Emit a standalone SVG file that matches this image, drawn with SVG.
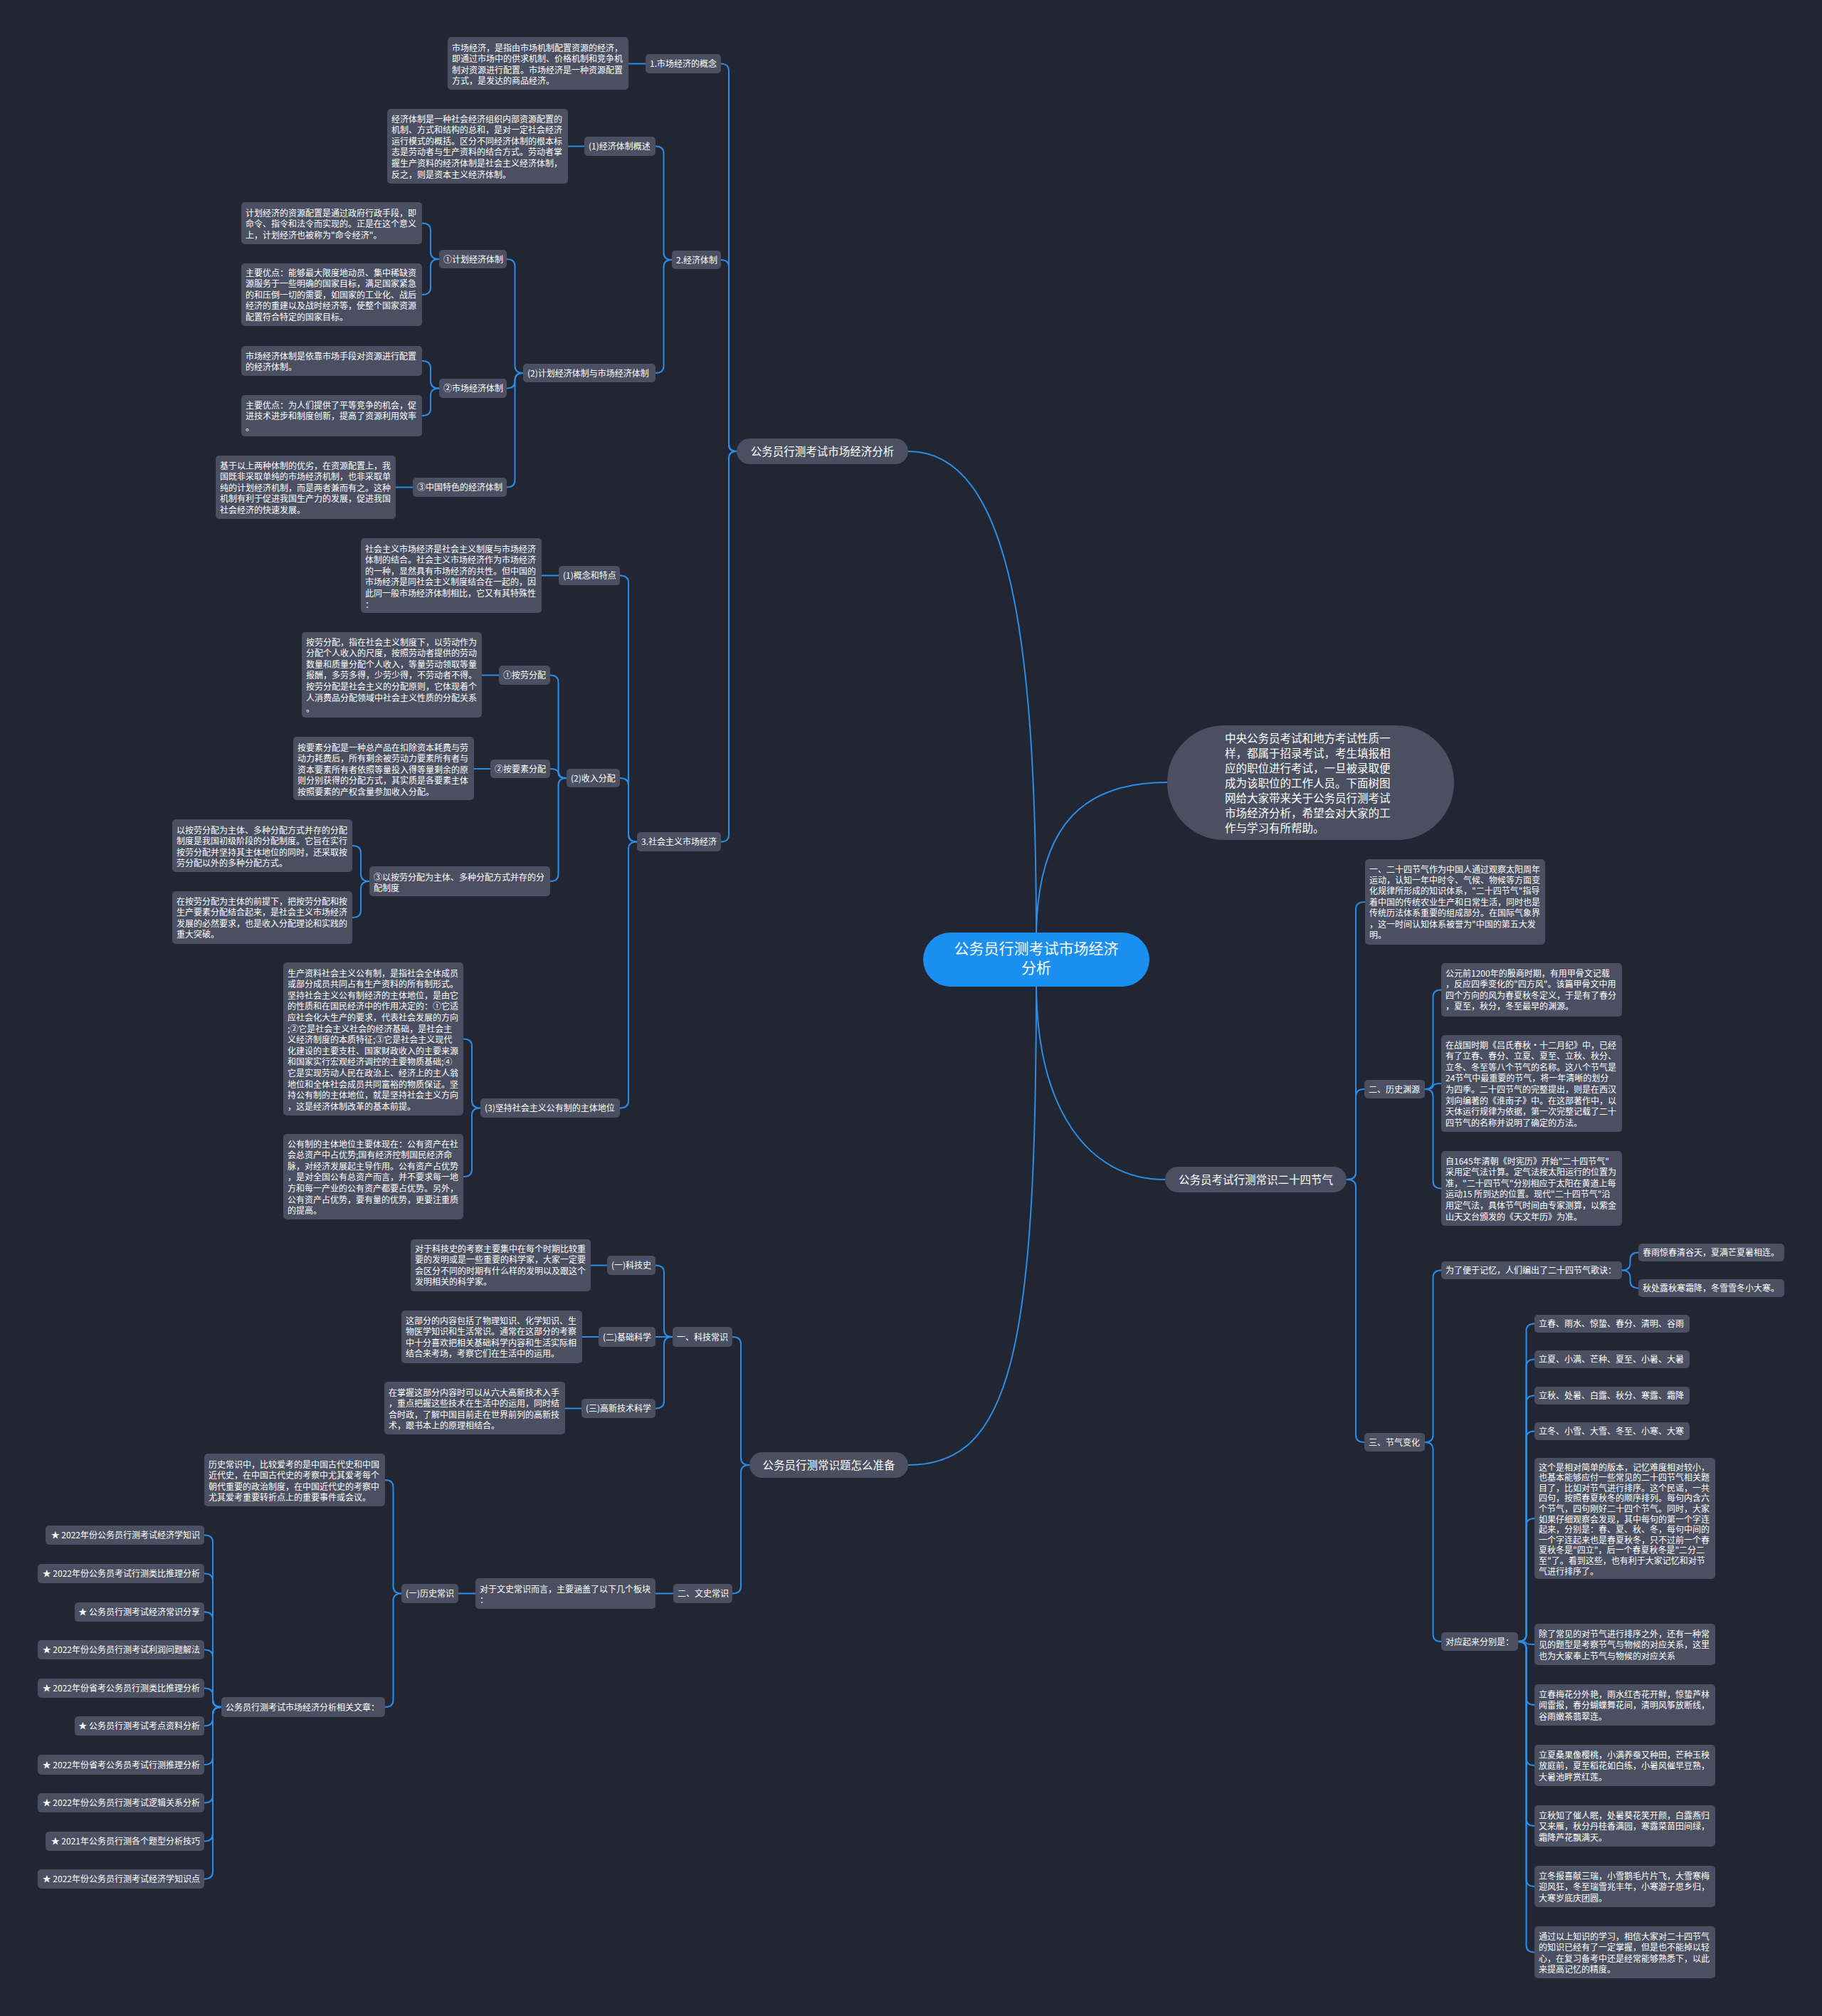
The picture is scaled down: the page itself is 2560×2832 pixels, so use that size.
<svg xmlns="http://www.w3.org/2000/svg" width="2560" height="2832" viewBox="0 0 2560 2832">
<style>
.n{fill:#4a5061}
.t{font-family:"Noto Sans CJK SC","Noto Sans",sans-serif;font-size:12px;fill:#ffffff}
.m{font-size:15.5px}
.c{font-size:21px}
.l{fill:none;stroke:#2b8de6;stroke-width:2}
</style>
<rect x="0" y="0" width="2560" height="2832" fill="#222632"/>
<g id="connectors">
<path class="l" d="M1456,1320 C1456,900 1420,634 1276,634"/>
<path class="l" d="M1456,1320 C1456,1150 1530,1099 1640,1099"/>
<path class="l" d="M1456,1380 C1456,1560 1530,1657 1637,1657"/>
<path class="l" d="M1456,1380 C1456,1900 1420,2058 1276,2058"/>
<path class="l" d="M1035,634 Q1024,634 1024,624 L1024,99.5 Q1024,89.5 1013,89.5"/>
<path class="l" d="M1035,634 Q1024,634 1024,624 L1024,375 Q1024,365 1013,365"/>
<path class="l" d="M1035,634 Q1024,634 1024,644 L1024,1172.5 Q1024,1182.5 1013,1182.5"/>
<path class="l" d="M907,89.5 L883,89.5"/>
<path class="l" d="M944,365 Q932.5,365 932.5,355 L932.5,215.5 Q932.5,205.5 921,205.5"/>
<path class="l" d="M944,365 Q932.5,365 932.5,375 L932.5,514 Q932.5,524 921,524"/>
<path class="l" d="M821,205.5 L798,205.5"/>
<path class="l" d="M735,524 Q723.5,524 723.5,514 L723.5,374 Q723.5,364 712,364"/>
<path class="l" d="M735,524 Q723.5,524 723.5,534 L723.5,535.5 Q723.5,545.5 712,545.5"/>
<path class="l" d="M735,524 Q723.5,524 723.5,534 L723.5,674.5 Q723.5,684.5 712,684.5"/>
<path class="l" d="M617,364 Q605,364 605,354 L605,323.5 Q605,313.5 593,313.5"/>
<path class="l" d="M617,364 Q605,364 605,374 L605,404 Q605,414 593,414"/>
<path class="l" d="M617,545.5 Q605,545.5 605,535.5 L605,517 Q605,507 593,507"/>
<path class="l" d="M617,545.5 Q605,545.5 605,555.5 L605,574 Q605,584 593,584"/>
<path class="l" d="M580,684.5 L556,684.5"/>
<path class="l" d="M895,1182.5 Q883,1182.5 883,1172.5 L883,818.5 Q883,808.5 871,808.5"/>
<path class="l" d="M895,1182.5 Q883,1182.5 883,1172.5 L883,1103 Q883,1093 871,1093"/>
<path class="l" d="M895,1182.5 Q883,1182.5 883,1192.5 L883,1546.5 Q883,1556.5 871,1556.5"/>
<path class="l" d="M785,808.5 L761,808.5"/>
<path class="l" d="M796,1093 Q784.5,1093 784.5,1083 L784.5,958.5 Q784.5,948.5 773,948.5"/>
<path class="l" d="M796,1093 Q784.5,1093 784.5,1086.5 Q784.5,1080 773,1080"/>
<path class="l" d="M796,1093 Q784.5,1093 784.5,1103 L784.5,1228 Q784.5,1238 773,1238"/>
<path class="l" d="M701,948.5 L677,948.5"/>
<path class="l" d="M689,1080 L666,1080"/>
<path class="l" d="M519,1238 Q507,1238 507,1228 L507,1198 Q507,1188 495,1188"/>
<path class="l" d="M519,1238 Q507,1238 507,1248 L507,1279 Q507,1289 495,1289"/>
<path class="l" d="M675,1556.5 Q663,1556.5 663,1546.5 L663,1469.5 Q663,1459.5 651,1459.5"/>
<path class="l" d="M675,1556.5 Q663,1556.5 663,1566.5 L663,1643 Q663,1653 651,1653"/>
<path class="l" d="M1053,2058 Q1041,2058 1041,2048 L1041,1888 Q1041,1878 1029,1878"/>
<path class="l" d="M1053,2058 Q1041,2058 1041,2068 L1041,2228.5 Q1041,2238.5 1029,2238.5"/>
<path class="l" d="M945,1878 Q933,1878 933,1868 L933,1787.5 Q933,1777.5 921,1777.5"/>
<path class="l" d="M945,1878 L921,1878"/>
<path class="l" d="M945,1878 Q933,1878 933,1888 L933,1968.5 Q933,1978.5 921,1978.5"/>
<path class="l" d="M853,1777.5 L830,1777.5"/>
<path class="l" d="M841,1878 L818,1878"/>
<path class="l" d="M817,1978.5 L794,1978.5"/>
<path class="l" d="M946,2238.5 L921,2238.5"/>
<path class="l" d="M668,2238.5 L644,2238.5"/>
<path class="l" d="M564,2238.5 Q552.5,2238.5 552.5,2228.5 L552.5,2089 Q552.5,2079 541,2079"/>
<path class="l" d="M564,2238.5 Q552.5,2238.5 552.5,2248.5 L552.5,2388 Q552.5,2398 541,2398"/>
<path class="l" d="M311,2398 Q299,2398 299,2388 L299,2166.5 Q299,2156.5 287,2156.5"/>
<path class="l" d="M311,2398 Q299,2398 299,2388 L299,2220.5 Q299,2210.5 287,2210.5"/>
<path class="l" d="M311,2398 Q299,2398 299,2388 L299,2274.5 Q299,2264.5 287,2264.5"/>
<path class="l" d="M311,2398 Q299,2398 299,2388 L299,2327.5 Q299,2317.5 287,2317.5"/>
<path class="l" d="M311,2398 Q299,2398 299,2388 L299,2381.5 Q299,2371.5 287,2371.5"/>
<path class="l" d="M311,2398 Q299,2398 299,2408 L299,2414.5 Q299,2424.5 287,2424.5"/>
<path class="l" d="M311,2398 Q299,2398 299,2408 L299,2469 Q299,2479 287,2479"/>
<path class="l" d="M311,2398 Q299,2398 299,2408 L299,2522.5 Q299,2532.5 287,2532.5"/>
<path class="l" d="M311,2398 Q299,2398 299,2408 L299,2576.5 Q299,2586.5 287,2586.5"/>
<path class="l" d="M311,2398 Q299,2398 299,2408 L299,2629.5 Q299,2639.5 287,2639.5"/>
<path class="l" d="M1892,1657 Q1905,1657 1905,1647 L1905,1277 Q1905,1267 1918,1267"/>
<path class="l" d="M1892,1657 Q1905,1657 1905,1647 L1905,1540 Q1905,1530 1917,1530"/>
<path class="l" d="M1892,1657 Q1905,1657 1905,1667 L1905,2016 Q1905,2026 1917,2026"/>
<path class="l" d="M2002,1530 Q2013.5,1530 2013.5,1520 L2013.5,1400.5 Q2013.5,1390.5 2025,1390.5"/>
<path class="l" d="M2002,1530 Q2013.5,1530 2013.5,1526 Q2013.5,1522 2025,1522"/>
<path class="l" d="M2002,1530 Q2013.5,1530 2013.5,1540 L2013.5,1659.5 Q2013.5,1669.5 2025,1669.5"/>
<path class="l" d="M2002,2026 Q2013.5,2026 2013.5,2016 L2013.5,1794.5 Q2013.5,1784.5 2025,1784.5"/>
<path class="l" d="M2002,2026 Q2013.5,2026 2013.5,2036 L2013.5,2296 Q2013.5,2306 2025,2306"/>
<path class="l" d="M2279,1784.5 Q2290.5,1784.5 2290.5,1774.5 L2290.5,1769.5 Q2290.5,1759.5 2302,1759.5"/>
<path class="l" d="M2279,1784.5 Q2290.5,1784.5 2290.5,1794.5 L2290.5,1799.5 Q2290.5,1809.5 2302,1809.5"/>
<path class="l" d="M2133,2306 Q2144.5,2306 2144.5,2296 L2144.5,1869.5 Q2144.5,1859.5 2156,1859.5"/>
<path class="l" d="M2133,2306 Q2144.5,2306 2144.5,2296 L2144.5,1919.5 Q2144.5,1909.5 2156,1909.5"/>
<path class="l" d="M2133,2306 Q2144.5,2306 2144.5,2296 L2144.5,1970.5 Q2144.5,1960.5 2156,1960.5"/>
<path class="l" d="M2133,2306 Q2144.5,2306 2144.5,2296 L2144.5,2020.5 Q2144.5,2010.5 2156,2010.5"/>
<path class="l" d="M2133,2306 Q2144.5,2306 2144.5,2296 L2144.5,2143 Q2144.5,2133 2156,2133"/>
<path class="l" d="M2133,2306 Q2144.5,2306 2144.5,2308 Q2144.5,2310 2156,2310"/>
<path class="l" d="M2133,2306 Q2144.5,2306 2144.5,2316 L2144.5,2385 Q2144.5,2395 2156,2395"/>
<path class="l" d="M2133,2306 Q2144.5,2306 2144.5,2316 L2144.5,2470 Q2144.5,2480 2156,2480"/>
<path class="l" d="M2133,2306 Q2144.5,2306 2144.5,2316 L2144.5,2555 Q2144.5,2565 2156,2565"/>
<path class="l" d="M2133,2306 Q2144.5,2306 2144.5,2316 L2144.5,2640 Q2144.5,2650 2156,2650"/>
<path class="l" d="M2133,2306 Q2144.5,2306 2144.5,2316 L2144.5,2732.5 Q2144.5,2742.5 2156,2742.5"/>
</g>

<g id="center"><rect x="1297" y="1310" width="318" height="76" rx="38" fill="#1a8ff0"/>
<text class="t c" text-anchor="middle"><tspan x="1456" y="1340">公务员行测考试市场经济</tspan><tspan x="1456" y="1367">分析</tspan></text></g>

<g id="intro"><rect x="1640" y="1019" width="403" height="161" rx="80" class="n"/>
<text class="t m"><tspan x="1721" y="1042.8">中央公务员考试和地方考试性质一</tspan><tspan x="1721" y="1063.8">样，都属于招录考试，考生填报相</tspan><tspan x="1721" y="1084.8">应的职位进行考试，一旦被录取便</tspan><tspan x="1721" y="1105.8">成为该职位的工作人员。下面树图</tspan><tspan x="1721" y="1126.8">网给大家带来关于公务员行测考试</tspan><tspan x="1721" y="1147.8">市场经济分析，希望会对大家的工</tspan><tspan x="1721" y="1168.8">作与学习有所帮助。</tspan></text></g>

<g id="b1"><rect x="1035" y="616" width="241" height="36" rx="18" class="n"/><text class="t m" x="1155.5" y="639.5" text-anchor="middle">公务员行测考试市场经济分析</text></g>
<g id="a1"><rect x="907" y="76" width="106" height="27" rx="5" class="n"/><text class="t" x="913" y="94">1.市场经济的概念</text></g>
<g id="a1a"><rect x="629" y="52" width="254" height="74" rx="5" class="n"/><text class="t"><tspan x="635" y="71.5">市场经济，是指由市场机制配置资源的经济，</tspan><tspan x="635" y="87.1">即通过市场中的供求机制、价格机制和竞争机</tspan><tspan x="635" y="102.7">制对资源进行配置。市场经济是一种资源配置</tspan><tspan x="635" y="118.3">方式，是发达的商品经济。</tspan></text></g>
<g id="a2"><rect x="944" y="352" width="69" height="26" rx="5" class="n"/><text class="t" x="950" y="369.5">2.经济体制</text></g>
<g id="b1n"><rect x="821" y="192" width="100" height="27" rx="5" class="n"/><text class="t" x="827" y="210">(1)经济体制概述</text></g>
<g id="b1d"><rect x="544" y="153" width="254" height="105" rx="5" class="n"/><text class="t"><tspan x="550" y="171.5">经济体制是一种社会经济组织内部资源配置的</tspan><tspan x="550" y="187.1">机制、方式和结构的总和，是对一定社会经济</tspan><tspan x="550" y="202.7">运行模式的概括。区分不同经济体制的根本标</tspan><tspan x="550" y="218.3">志是劳动者与生产资料的结合方式。劳动者掌</tspan><tspan x="550" y="233.9">握生产资料的经济体制是社会主义经济体制，</tspan><tspan x="550" y="249.5">反之，则是资本主义经济体制。</tspan></text></g>
<g id="b2n"><rect x="735" y="511" width="186" height="26" rx="5" class="n"/><text class="t" x="741" y="528.5">(2)计划经济体制与市场经济体制</text></g>
<g id="c1"><rect x="617" y="351" width="95" height="26" rx="5" class="n"/><text class="t" x="623" y="368.5">①计划经济体制</text></g>
<g id="d1"><rect x="339" y="284" width="254" height="59" rx="5" class="n"/><text class="t"><tspan x="345" y="303.5">计划经济的资源配置是通过政府行政手段，即</tspan><tspan x="345" y="319.1">命令、指令和法令而实现的。正是在这个意义</tspan><tspan x="345" y="334.7">上，计划经济也被称为"命令经济"。</tspan></text></g>
<g id="d2"><rect x="339" y="370" width="254" height="88" rx="5" class="n"/><text class="t"><tspan x="345" y="387.5">主要优点：能够最大限度地动员、集中稀缺资</tspan><tspan x="345" y="403.1">源服务于一些明确的国家目标，满足国家紧急</tspan><tspan x="345" y="418.7">的和压倒一切的需要，如国家的工业化、战后</tspan><tspan x="345" y="434.3">经济的重建以及战时经济等，使整个国家资源</tspan><tspan x="345" y="449.9">配置符合特定的国家目标。</tspan></text></g>
<g id="c2"><rect x="617" y="532" width="95" height="27" rx="5" class="n"/><text class="t" x="623" y="550">②市场经济体制</text></g>
<g id="d3"><rect x="339" y="486" width="254" height="42" rx="5" class="n"/><text class="t"><tspan x="345" y="504.5">市场经济体制是依靠市场手段对资源进行配置</tspan><tspan x="345" y="520.1">的经济体制。</tspan></text></g>
<g id="d4"><rect x="339" y="555" width="254" height="58" rx="5" class="n"/><text class="t"><tspan x="345" y="573.5">主要优点：为人们提供了平等竞争的机会，促</tspan><tspan x="345" y="589.1">进技术进步和制度创新，提高了资源利用效率</tspan><tspan x="345" y="604.7">。</tspan></text></g>
<g id="c3"><rect x="580" y="671" width="132" height="27" rx="5" class="n"/><text class="t" x="586" y="689">③中国特色的经济体制</text></g>
<g id="d5"><rect x="303" y="640" width="253" height="89" rx="5" class="n"/><text class="t"><tspan x="309" y="658.5">基于以上两种体制的优劣，在资源配置上，我</tspan><tspan x="309" y="674.1">国既非采取单纯的市场经济机制，也非采取单</tspan><tspan x="309" y="689.7">纯的计划经济机制，而是两者兼而有之。这种</tspan><tspan x="309" y="705.3">机制有利于促进我国生产力的发展，促进我国</tspan><tspan x="309" y="720.9">社会经济的快速发展。</tspan></text></g>
<g id="a3"><rect x="895" y="1169" width="118" height="27" rx="5" class="n"/><text class="t" x="901" y="1187">3.社会主义市场经济</text></g>
<g id="e1"><rect x="785" y="795" width="86" height="27" rx="5" class="n"/><text class="t" x="791" y="813">(1)概念和特点</text></g>
<g id="e1d"><rect x="507" y="756" width="254" height="105" rx="5" class="n"/><text class="t"><tspan x="513" y="775.5">社会主义市场经济是社会主义制度与市场经济</tspan><tspan x="513" y="791.1">体制的结合。社会主义市场经济作为市场经济</tspan><tspan x="513" y="806.7">的一种，显然具有市场经济的共性。但中国的</tspan><tspan x="513" y="822.3">市场经济是同社会主义制度结合在一起的，因</tspan><tspan x="513" y="837.9">此同一般市场经济体制相比，它又有其特殊性</tspan><tspan x="513" y="853.5">：</tspan></text></g>
<g id="e2"><rect x="796" y="1080" width="75" height="26" rx="5" class="n"/><text class="t" x="802" y="1097.5">(2)收入分配</text></g>
<g id="f1"><rect x="701" y="935" width="72" height="27" rx="5" class="n"/><text class="t" x="707" y="953">①按劳分配</text></g>
<g id="f1d"><rect x="424" y="888" width="253" height="120" rx="5" class="n"/><text class="t"><tspan x="430" y="906.5">按劳分配，指在社会主义制度下，以劳动作为</tspan><tspan x="430" y="922.1">分配个人收入的尺度，按照劳动者提供的劳动</tspan><tspan x="430" y="937.7">数量和质量分配个人收入，等量劳动领取等量</tspan><tspan x="430" y="953.3">报酬，多劳多得，少劳少得，不劳动者不得。</tspan><tspan x="430" y="968.9">按劳分配是社会主义的分配原则，它体现着个</tspan><tspan x="430" y="984.5">人消费品分配领域中社会主义性质的分配关系</tspan><tspan x="430" y="1000.1">。</tspan></text></g>
<g id="f2"><rect x="689" y="1067" width="84" height="26" rx="5" class="n"/><text class="t" x="695" y="1084.5">②按要素分配</text></g>
<g id="f2d"><rect x="412" y="1035" width="254" height="89" rx="5" class="n"/><text class="t"><tspan x="418" y="1054.5">按要素分配是一种总产品在扣除资本耗费与劳</tspan><tspan x="418" y="1070.1">动力耗费后，所有剩余被劳动力要素所有者与</tspan><tspan x="418" y="1085.7">资本要素所有者依照等量投入得等量剩余的原</tspan><tspan x="418" y="1101.3">则分别获得的分配方式，其实质是各要素主体</tspan><tspan x="418" y="1116.9">按照要素的产权含量参加收入分配。</tspan></text></g>
<g id="f3"><rect x="519" y="1217" width="254" height="42" rx="5" class="n"/><text class="t"><tspan x="525" y="1236.5">③以按劳分配为主体、多种分配方式并存的分</tspan><tspan x="525" y="1252.1">配制度</tspan></text></g>
<g id="g1"><rect x="242" y="1151" width="253" height="74" rx="5" class="n"/><text class="t"><tspan x="248" y="1170.5">以按劳分配为主体、多种分配方式并存的分配</tspan><tspan x="248" y="1186.1">制度是我国初级阶段的分配制度。它旨在实行</tspan><tspan x="248" y="1201.7">按劳分配并坚持其主体地位的同时，还采取按</tspan><tspan x="248" y="1217.3">劳分配以外的多种分配方式。</tspan></text></g>
<g id="g2"><rect x="242" y="1252" width="253" height="74" rx="5" class="n"/><text class="t"><tspan x="248" y="1270.5">在按劳分配为主体的前提下，把按劳分配和按</tspan><tspan x="248" y="1286.1">生产要素分配结合起来，是社会主义市场经济</tspan><tspan x="248" y="1301.7">发展的必然要求，也是收入分配理论和实践的</tspan><tspan x="248" y="1317.3">重大突破。</tspan></text></g>
<g id="e3"><rect x="675" y="1543" width="196" height="27" rx="5" class="n"/><text class="t" x="681" y="1561">(3)坚持社会主义公有制的主体地位</text></g>
<g id="h1"><rect x="398" y="1352" width="253" height="215" rx="5" class="n"/><text class="t"><tspan x="404" y="1371.5">生产资料社会主义公有制，是指社会全体成员</tspan><tspan x="404" y="1387.1">或部分成员共同占有生产资料的所有制形式。</tspan><tspan x="404" y="1402.7">坚持社会主义公有制经济的主体地位，是由它</tspan><tspan x="404" y="1418.3">的性质和在国民经济中的作用决定的：①它适</tspan><tspan x="404" y="1433.9">应社会化大生产的要求，代表社会发展的方向</tspan><tspan x="404" y="1449.5">;②它是社会主义社会的经济基础，是社会主</tspan><tspan x="404" y="1465.1">义经济制度的本质特征;③它是社会主义现代</tspan><tspan x="404" y="1480.7">化建设的主要支柱、国家财政收入的主要来源</tspan><tspan x="404" y="1496.3">和国家实行宏观经济调控的主要物质基础;④</tspan><tspan x="404" y="1511.9">它是实现劳动人民在政治上、经济上的主人翁</tspan><tspan x="404" y="1527.5">地位和全体社会成员共同富裕的物质保证。坚</tspan><tspan x="404" y="1543.1">持公有制的主体地位，就是坚持社会主义方向</tspan><tspan x="404" y="1558.7">，这是经济体制改革的基本前提。</tspan></text></g>
<g id="h2"><rect x="398" y="1593" width="253" height="120" rx="5" class="n"/><text class="t"><tspan x="404" y="1611.5">公有制的主体地位主要体现在：公有资产在社</tspan><tspan x="404" y="1627.1">会总资产中占优势;国有经济控制国民经济命</tspan><tspan x="404" y="1642.7">脉，对经济发展起主导作用。公有资产占优势</tspan><tspan x="404" y="1658.3">，是对全国公有总资产而言，并不要求每一地</tspan><tspan x="404" y="1673.9">方和每一产业的公有资产都要占优势。另外，</tspan><tspan x="404" y="1689.5">公有资产占优势，要有量的优势，更要注重质</tspan><tspan x="404" y="1705.1">的提高。</tspan></text></g>

<g id="b2"><rect x="1053" y="2040" width="223" height="36" rx="18" class="n"/><text class="t m" x="1164.5" y="2063.5" text-anchor="middle">公务员行测常识题怎么准备</text></g>
<g id="i1"><rect x="945" y="1864" width="84" height="28" rx="5" class="n"/><text class="t" x="951" y="1882.5">一、科技常识</text></g>
<g id="j1"><rect x="853" y="1764" width="68" height="27" rx="5" class="n"/><text class="t" x="859" y="1782">(一)科技史</text></g>
<g id="j1d"><rect x="577" y="1741" width="253" height="73" rx="5" class="n"/><text class="t"><tspan x="583" y="1758.5">对于科技史的考察主要集中在每个时期比较重</tspan><tspan x="583" y="1774.1">要的发明或是一些重要的科学家，大家一定要</tspan><tspan x="583" y="1789.7">会区分不同的时期有什么样的发明以及跟这个</tspan><tspan x="583" y="1805.3">发明相关的科学家。</tspan></text></g>
<g id="j2"><rect x="841" y="1864" width="80" height="28" rx="5" class="n"/><text class="t" x="847" y="1882.5">(二)基础科学</text></g>
<g id="j2d"><rect x="564" y="1841" width="254" height="74" rx="5" class="n"/><text class="t"><tspan x="570" y="1859.5">这部分的内容包括了物理知识、化学知识、生</tspan><tspan x="570" y="1875.1">物医学知识和生活常识。通常在这部分的考察</tspan><tspan x="570" y="1890.7">中十分喜欢把相关基础科学内容和生活实际相</tspan><tspan x="570" y="1906.3">结合来考场，考察它们在生活中的运用。</tspan></text></g>
<g id="j3"><rect x="817" y="1965" width="104" height="27" rx="5" class="n"/><text class="t" x="823" y="1983">(三)高新技术科学</text></g>
<g id="j3d"><rect x="540" y="1941" width="254" height="74" rx="5" class="n"/><text class="t"><tspan x="546" y="1960.5">在掌握这部分内容时可以从六大高新技术入手</tspan><tspan x="546" y="1976.1">，重点把握这些技术在生活中的运用，同时结</tspan><tspan x="546" y="1991.7">合时政，了解中国目前走在世界前列的高新技</tspan><tspan x="546" y="2007.3">术，跟书本上的原理相结合。</tspan></text></g>
<g id="i2"><rect x="946" y="2225" width="83" height="27" rx="5" class="n"/><text class="t" x="952" y="2243">二、文史常识</text></g>
<g id="k1"><rect x="668" y="2217" width="253" height="43" rx="5" class="n"/><text class="t"><tspan x="674" y="2236.5">对于文史常识而言，主要涵盖了以下几个板块</tspan><tspan x="674" y="2252.1">：</tspan></text></g>
<g id="l1"><rect x="564" y="2225" width="80" height="27" rx="5" class="n"/><text class="t" x="570" y="2243">(一)历史常识</text></g>
<g id="m1"><rect x="287" y="2042" width="254" height="74" rx="5" class="n"/><text class="t"><tspan x="293" y="2061.5">历史常识中，比较爱考的是中国古代史和中国</tspan><tspan x="293" y="2077.1">近代史，在中国古代史的考察中尤其爱考每个</tspan><tspan x="293" y="2092.7">朝代重要的政治制度，在中国近代史的考察中</tspan><tspan x="293" y="2108.3">尤其爱考重要转折点上的重要事件或会议。</tspan></text></g>
<g id="m2"><rect x="311" y="2384" width="230" height="28" rx="5" class="n"/><text class="t" x="317" y="2402.5">公务员行测考试市场经济分析相关文章：</text></g>
<g id="art1"><rect x="64" y="2143" width="223" height="27" rx="5" class="n"/><text class="t" x="281" y="2161" text-anchor="end">★ 2022年份公务员行测考试经济学知识</text></g>
<g id="art2"><rect x="53" y="2197" width="234" height="27" rx="5" class="n"/><text class="t" x="281" y="2215" text-anchor="end">★ 2022年份公务员考试行测类比推理分析</text></g>
<g id="art3"><rect x="105" y="2251" width="182" height="27" rx="5" class="n"/><text class="t" x="281" y="2269" text-anchor="end">★ 公务员行测考试经济常识分享</text></g>
<g id="art4"><rect x="53" y="2304" width="234" height="27" rx="5" class="n"/><text class="t" x="281" y="2322" text-anchor="end">★ 2022年份公务员行测考试利润问题解法</text></g>
<g id="art5"><rect x="53" y="2358" width="234" height="27" rx="5" class="n"/><text class="t" x="281" y="2376" text-anchor="end">★ 2022年份省考公务员行测类比推理分析</text></g>
<g id="art6"><rect x="105" y="2411" width="182" height="27" rx="5" class="n"/><text class="t" x="281" y="2429" text-anchor="end">★ 公务员行测考试考点资料分析</text></g>
<g id="art7"><rect x="53" y="2465" width="234" height="28" rx="5" class="n"/><text class="t" x="281" y="2483.5" text-anchor="end">★ 2022年份省考公务员考试行测推理分析</text></g>
<g id="art8"><rect x="53" y="2519" width="234" height="27" rx="5" class="n"/><text class="t" x="281" y="2537" text-anchor="end">★ 2022年份公务员行测考试逻辑关系分析</text></g>
<g id="art9"><rect x="64" y="2573" width="223" height="27" rx="5" class="n"/><text class="t" x="281" y="2591" text-anchor="end">★ 2021年公务员行测各个题型分析技巧</text></g>
<g id="art10"><rect x="53" y="2626" width="234" height="27" rx="5" class="n"/><text class="t" x="281" y="2644" text-anchor="end">★ 2022年份公务员行测考试经济学知识点</text></g>

<g id="b3"><rect x="1637" y="1639" width="255" height="36" rx="18" class="n"/><text class="t m" x="1764.5" y="1662.5" text-anchor="middle">公务员考试行测常识二十四节气</text></g>
<g id="n1"><rect x="1918" y="1207" width="253" height="120" rx="5" class="n"/><text class="t"><tspan x="1924" y="1225.5">一、二十四节气作为中国人通过观察太阳周年</tspan><tspan x="1924" y="1240.9">运动，认知一年中时令、气候、物候等方面变</tspan><tspan x="1924" y="1256.3">化规律所形成的知识体系，"二十四节气"指导</tspan><tspan x="1924" y="1271.7">着中国的传统农业生产和日常生活，同时也是</tspan><tspan x="1924" y="1287.1">传统历法体系重要的组成部分。在国际气象界</tspan><tspan x="1924" y="1302.5">，这一时间认知体系被誉为"中国的第五大发</tspan><tspan x="1924" y="1317.9">明。</tspan></text></g>
<g id="n2"><rect x="1917" y="1517" width="85" height="26" rx="5" class="n"/><text class="t" x="1923" y="1534.5">二、历史渊源</text></g>
<g id="o1"><rect x="2025" y="1353" width="254" height="75" rx="5" class="n"/><text class="t"><tspan x="2031" y="1371.5">公元前1200年的殷商时期，有用甲骨文记载</tspan><tspan x="2031" y="1387.1">，反应四季变化的"四方风"。该篇甲骨文中用</tspan><tspan x="2031" y="1402.7">四个方向的风为春夏秋冬定义，于是有了春分</tspan><tspan x="2031" y="1418.3">，夏至，秋分，冬至最早的渊源。</tspan></text></g>
<g id="o2"><rect x="2025" y="1454" width="254" height="136" rx="5" class="n"/><text class="t"><tspan x="2031" y="1472.5">在战国时期《吕氏春秋·十二月纪》中，已经</tspan><tspan x="2031" y="1488.1">有了立春、春分、立夏、夏至、立秋、秋分、</tspan><tspan x="2031" y="1503.7">立冬、冬至等八个节气的名称。这八个节气是</tspan><tspan x="2031" y="1519.3">24节气中最重要的节气，将一年清晰的划分</tspan><tspan x="2031" y="1534.9">为四季。二十四节气的完整提出，则是在西汉</tspan><tspan x="2031" y="1550.5">刘向编著的《淮南子》中。在这部著作中，以</tspan><tspan x="2031" y="1566.1">天体运行规律为依据，第一次完整记载了二十</tspan><tspan x="2031" y="1581.7">四节气的名称并说明了确定的方法。</tspan></text></g>
<g id="o3"><rect x="2025" y="1617" width="254" height="105" rx="5" class="n"/><text class="t"><tspan x="2031" y="1635.5">自1645年清朝《时宪历》开始"二十四节气"</tspan><tspan x="2031" y="1651.1">采用定气法计算。定气法按太阳运行的位置为</tspan><tspan x="2031" y="1666.7">准，"二十四节气"分别相应于太阳在黄道上每</tspan><tspan x="2031" y="1682.3">运动15 所到达的位置。现代"二十四节气"沿</tspan><tspan x="2031" y="1697.9">用定气法，具体节气时间由专家测算，以紫金</tspan><tspan x="2031" y="1713.5">山天文台颁发的《天文年历》为准。</tspan></text></g>
<g id="n3"><rect x="1917" y="2013" width="85" height="26" rx="5" class="n"/><text class="t" x="1923" y="2030.5">三、节气变化</text></g>
<g id="p1"><rect x="2025" y="1772" width="254" height="25" rx="5" class="n"/><text class="t" x="2031" y="1789">为了便于记忆，人们编出了二十四节气歌诀：</text></g>
<g id="q1"><rect x="2302" y="1747" width="205" height="25" rx="5" class="n"/><text class="t" x="2308" y="1764">春雨惊春清谷天，夏满芒夏暑相连。</text></g>
<g id="q2"><rect x="2302" y="1797" width="205" height="25" rx="5" class="n"/><text class="t" x="2308" y="1814">秋处露秋寒霜降，冬雪雪冬小大寒。</text></g>
<g id="p2"><rect x="2025" y="2293" width="108" height="26" rx="5" class="n"/><text class="t" x="2031" y="2310.5">对应起来分别是：</text></g>
<g id="r1"><rect x="2156" y="1847" width="218" height="25" rx="5" class="n"/><text class="t" x="2162" y="1864">立春、雨水、惊蛰、春分、清明、谷雨</text></g>
<g id="r2"><rect x="2156" y="1897" width="218" height="25" rx="5" class="n"/><text class="t" x="2162" y="1914">立夏、小满、芒种、夏至、小暑、大暑</text></g>
<g id="r3"><rect x="2156" y="1948" width="218" height="25" rx="5" class="n"/><text class="t" x="2162" y="1965">立秋、处暑、白露、秋分、寒露、霜降</text></g>
<g id="r4"><rect x="2156" y="1998" width="218" height="25" rx="5" class="n"/><text class="t" x="2162" y="2015">立冬、小雪、大雪、冬至、小寒、大寒</text></g>
<g id="r5"><rect x="2156" y="2048" width="254" height="170" rx="5" class="n"/><text class="t"><tspan x="2162" y="2065.5">这个是相对简单的版本，记忆难度相对较小，</tspan><tspan x="2162" y="2080.1">也基本能够应付一些常见的二十四节气相关题</tspan><tspan x="2162" y="2094.7">目了，比如对节气进行排序。这个民谣，一共</tspan><tspan x="2162" y="2109.3">四句，按照春夏秋冬的顺序排列。每句内含六</tspan><tspan x="2162" y="2123.9">个节气，四句刚好二十四个节气。同时，大家</tspan><tspan x="2162" y="2138.5">如果仔细观察会发现，其中每句的第一个字连</tspan><tspan x="2162" y="2153.1">起来，分别是：春、夏、秋、冬，每句中间的</tspan><tspan x="2162" y="2167.7">一个字连起来也是春夏秋冬，只不过前一个春</tspan><tspan x="2162" y="2182.3">夏秋冬是"四立"，后一个春夏秋冬是"二分二</tspan><tspan x="2162" y="2196.9">至"了。看到这些，也有利于大家记忆和对节</tspan><tspan x="2162" y="2211.5">气进行排序了。</tspan></text></g>
<g id="r6"><rect x="2156" y="2281" width="254" height="58" rx="5" class="n"/><text class="t"><tspan x="2162" y="2299.5">除了常见的对节气进行排序之外，还有一种常</tspan><tspan x="2162" y="2315.1">见的题型是考察节气与物候的对应关系，这里</tspan><tspan x="2162" y="2330.7">也为大家奉上节气与物候的对应关系</tspan></text></g>
<g id="r7"><rect x="2156" y="2366" width="254" height="58" rx="5" class="n"/><text class="t"><tspan x="2162" y="2384.5">立春梅花分外艳，雨水红杏花开鲜，惊蛰芦林</tspan><tspan x="2162" y="2400.1">闻雷报，春分蝴蝶舞花间，清明风筝放断线，</tspan><tspan x="2162" y="2415.7">谷雨嫩茶翡翠连。</tspan></text></g>
<g id="r8"><rect x="2156" y="2451" width="254" height="58" rx="5" class="n"/><text class="t"><tspan x="2162" y="2469.5">立夏桑果像樱桃，小满养蚕又种田，芒种玉秧</tspan><tspan x="2162" y="2485.1">放庭前，夏至稻花如白练，小暑风催早豆熟，</tspan><tspan x="2162" y="2500.7">大暑池畔赏红莲。</tspan></text></g>
<g id="r9"><rect x="2156" y="2536" width="254" height="58" rx="5" class="n"/><text class="t"><tspan x="2162" y="2554.5">立秋知了催人眠，处暑葵花笑开颜，白露燕归</tspan><tspan x="2162" y="2570.1">又来雁，秋分丹桂香满园，寒露菜苗田间绿，</tspan><tspan x="2162" y="2585.7">霜降芦花飘满天。</tspan></text></g>
<g id="r10"><rect x="2156" y="2621" width="254" height="58" rx="5" class="n"/><text class="t"><tspan x="2162" y="2639.5">立冬报喜献三瑞，小雪鹅毛片片飞，大雪寒梅</tspan><tspan x="2162" y="2655.1">迎风狂，冬至瑞雪兆丰年，小寒游子思乡归，</tspan><tspan x="2162" y="2670.7">大寒岁底庆团圆。</tspan></text></g>
<g id="r11"><rect x="2156" y="2706" width="254" height="73" rx="5" class="n"/><text class="t"><tspan x="2162" y="2724.5">通过以上知识的学习，相信大家对二十四节气</tspan><tspan x="2162" y="2740.1">的知识已经有了一定掌握，但是也不能掉以轻</tspan><tspan x="2162" y="2755.7">心，在复习备考中还是经常能够熟悉下，以此</tspan><tspan x="2162" y="2771.3">来提高记忆的精度。</tspan></text></g>
</svg>
